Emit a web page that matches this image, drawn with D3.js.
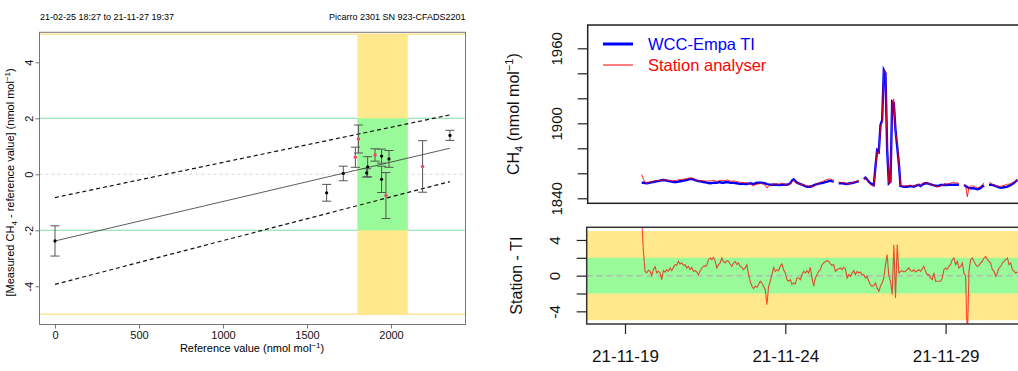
<!DOCTYPE html>
<html>
<head>
<meta charset="utf-8">
<script src="https://cdn.jsdelivr.net/npm/d3@7"></script>
<style>
  body { margin: 0; background: #fff; }
  svg { display: block; font-family: "Liberation Sans", Arial, sans-serif; }
</style>
</head>
<body>
<svg id="chart" width="1018" height="371"></svg>
<script>
// ---- left panel: deviation vs reference value ----
const headerLeft = "21-02-25 18:27 to 21-11-27 19:37";
const headerRight = "Picarro 2301 SN 923-CFADS2201";

const blackRef = [0, 1617, 1716, 1855, 1861, 1944, 1944, 1988, 2351];
const blackDev = [-2.38, -0.66, 0.03, 0.05, 0.27, 0.65, -0.18, 0.55, 1.39];
const blackUnc = [0.54, 0.3, 0.26, 0.15, 0.36, 0.25, 0.47, 0.3, 0.18];

const redRef = [1788, 1806, 1905, 1970, 2188];
const redDev = [0.61, 1.26, 0.69, -0.76, 0.28];
const redUnc = [0.36, 0.5, 0.22, 0.82, 0.92];

const fitRef = [0, 2350];
const fitMid = [-2.38, 0.93];
const fitUpper = [-0.83, 2.12];
const fitLower = [-3.93, -0.26];

const refBand = [1800, 2100];
const xTicksL = [0, 500, 1000, 1500, 2000];
const yTicksL = [-4, -2, 0, 2, 4];

// ---- right panels: time series ----
const seriesStart = new Date(Date.UTC(2021, 10, 19, 12, 30));
const stepMinutes = 75;

const tiValues = [
  1852.5, 1852.5, 1852.2, 1852, 1852.2, 1852.5, 1852.8, 1853, 1853.3, 1853.6,
  1853.8, 1854.1, 1854.4, 1854.6, 1854.4, 1854.1, 1853.8, 1853.6, 1853.3, 1853,
  1853, 1853, 1853.3, 1853.6, 1853.8, 1854.1, 1854.4, 1854.6, 1855.2, 1855.4,
  1855.4, 1855.2, 1854.6, 1854.1, 1853.8, 1853.6, 1853.3, 1853, 1852.8, 1852.5,
  1852.2, 1852, 1852.2, 1852.5, 1852.5, 1852.5, 1852.8, 1852.8, 1852.5, 1852.5,
  1852.8, 1853, 1852.8, 1852.5, 1852.5, 1852.5, 1852.2, 1852, 1851.7, 1851.4,
  1851.7, 1851.7, 1851.4, 1851.4, 1851.7, 1852, 1851.7, 1851.4, 1852, 1852.5,
  1852.5, 1852.5, 1852.5, 1852.2, 1852, 1851.4, 1851.1, 1850.9, 1850.9, 1850.9,
  1850.9, 1850.9, 1850.6, 1850.6, 1850.9, 1850.9, 1850.9, 1850.9, 1851.4, 1852,
  1854.1, 1855.2, 1853.8, 1852.5, 1852, 1851.4, 1850.9, 1850.4, 1849.8, 1849.3,
  1849.3, 1849.3, 1849.8, 1850.4, 1850.9, 1851.4, 1851.7, 1852, 1852.2, 1852.5,
  1853, 1853.3, 1853.8, 1854.1, 1853.6, 1853.3, null, null, 1852, 1852,
  1852, 1851.8, 1851.6, 1851.5, 1851.8, 1852, 1852.2, 1852.5, 1853, 1853.4,
  1853.8, null, null, 1855.5, 1856.5, 1855, 1853.3, 1852, 1851.2, 1850.6,
  1865.3, 1878.6, 1877.3, 1898.6, 1902.6, 1942.6, 1940, 1878.6, 1852, 1853.3,
  1917.3, 1916, 1894.6, 1881.3, 1868, 1849.8, 1849.5, 1849.3, 1849.3, 1849.3,
  1849.5, 1849.8, 1849.5, 1849.3, 1850, 1850.4, 1850.8, 1849.8, 1851, 1851.5,
  1852, 1852, 1851.5, 1851.2, 1850.8, 1850.4, 1850, 1849.8, 1850, 1850.6,
  1850.6, 1850.6, 1850.8, 1850.6, 1850.8, 1850.9, 1850.9, 1850.9, 1850.9, 1850.9,
  1850.9, null, null, 1850.6, 1849.8, 1848.8, 1848.3, 1848, 1848, 1848,
  1847.6, 1847.2, 1847.6, 1848.3, 1849.3, 1850.4, null, null, 1850.6, 1850.9,
  1850.6, 1850.4, 1849.8, 1849.3, 1848.8, 1848.5, 1848.6, 1848.8, 1849, 1849.3,
  1850, 1850.6, 1851.5, 1852.5, 1853.5, 1854.6
];

// station minus travelling instrument
const diffValues = [
  6.5, 2.8, 0.5, 0.3, 0.6, 0.5, 0.0, 0.7, 1.0, 0.3,
  0.5, 0.3, -0.45, 0.56, 0.4, 0.67, 0.48, 0.86, 0.56, 0.93,
  1.23, 1.16, 1.6, 1.31, 1.42, 1.16, 1.23, 0.86, 1.04, 0.67,
  0.93, 0.48, 0.56, 0.41, 0.11, 0.48, 0.86, 1.04, 1.04, 1.16,
  1.79, 1.98, 1.79, 2.05, 1.6, 0.86, 1.23, 1.42, 1.98, 1.6,
  1.42, 1.68, 1.6, 1.31, 1.04, 1.42, 1.6, 1.23, 1.42, 1.04,
  0.93, 0.67, 0.86, 1.23, 0.11, -0.63, -1.19, -1.45, -1.19, -1.3,
  -1.0, -0.63, -0.82, -1.19, -1.57, -3.25, -1.19, -0.63, 0.11, 0.93,
  0.48, 0.67, 0.56, 1.04, 1.31, 0.67, 0.3, -0.45, -0.63, -0.45,
  -1.0, -0.82, -0.93, -0.26, -0.26, -0.45, 0.11, 0.48, 0.3, 0.56,
  0.3, 0.93, -0.26, -1.19, -0.26, 0.11, 0.48, 0.67, 1.23, 1.42,
  1.6, 1.68, 1.6, 1.31, 1.16, 1.23, 0.48, 0.67, 0.78, 0.86,
  0.67, 0.93, 0.78, -0.26, 0.11, -0.07, 0.3, 0.56, 0.11, 0.48,
  0.3, 0.41, 0.11, 0.11, -0.26, -0.07, -0.63, -1.0, -1.19, -1.1,
  -0.82, -1.38, -1.75, -1.19, -0.82, -0.26, 1.23, 2.35, 0.0, -0.63,
  -2.1, 3.47, -2.5, 3.5, 0.3, 0.48, 0.56, 0.41, 0.48, 0.67,
  0.86, 0.56, 0.48, 0.67, 0.41, 0.56, 0.67, 0.48, 0.78, 1.04,
  0.48, 0.11, 0.11, -0.26, -0.45, 0.3, -0.63, -0.63, -0.63, -0.63,
  -0.26, 0.67, 0.86, 0.67, 1.04, 1.23, 1.79, 2.0, 1.23, 1.6,
  0.86, 1.04, 1.42, 0.3, -0.07, -7.5, 0.48, 1.79, 1.98, 1.6,
  1.23, 1.04, 1.16, 1.42, 1.6, 1.98, 2.16, 1.79, 1.6, 1.42,
  0.67, 0.48, -0.07, 0.3, 0.86, 1.04, 1.42, 1.6, 1.79, 1.98,
  1.23, 1.42, 0.67, 0.48, 0.3, 0.41
];

const yTicksTop = [1840, 1860, 1880, 1900, 1920, 1940, 1960];
const yLabelsTop = [1840, 1900, 1960];
const yTicksBottom = [-4, -2, 0, 2, 4];
const yLabelsBottom = [-4, 0, 4];
const dateTicks = ["2021-11-19", "2021-11-24", "2021-11-29"];

const legendNames = ["WCC-Empa TI", "Station analyser"];

const svg = d3.select("#chart");

drawLeft();
drawRightTop();
drawRightBottom();

function rotateYLabels(g, offset, size) {
  g.selectAll(".tick text")
    .attr("transform", "rotate(-90)")
    .attr("x", 0)
    .attr("y", -offset)
    .attr("dy", 0)
    .attr("text-anchor", "middle")
    .style("font-size", size + "px")
    .attr("fill", "#111");
}

function drawLeft() {
  const box = { x0: 39.5, x1: 465.5, y0: 32.3, y1: 324.5 };
  const x = d3.scaleLinear().domain([0, 2000]).range([55, 391]);
  const y = d3.scaleLinear().domain([0, 4]).range([174.3, 62.3]);
  const g = svg.append("g");

  g.append("text").attr("x", 40).attr("y", 20)
    .style("font-size", "9px").text(headerLeft);
  g.append("text").attr("x", 465.5).attr("y", 20).attr("text-anchor", "end")
    .style("font-size", "9px").text(headerRight);

  g.append("clipPath").attr("id", "clipL").append("rect")
    .attr("x", box.x0).attr("y", box.y0)
    .attr("width", box.x1 - box.x0).attr("height", box.y1 - box.y0);
  const p = g.append("g").attr("clip-path", "url(#clipL)");

  // reference lines
  p.append("line").attr("x1", box.x0).attr("x2", box.x1)
    .attr("y1", y(0)).attr("y2", y(0))
    .attr("stroke", "#d8d8d8").attr("stroke-dasharray", "3,3");
  [-5, 5].forEach(v => {
    p.append("line").attr("x1", box.x0).attr("x2", box.x1)
      .attr("y1", y(v)).attr("y2", y(v))
      .attr("stroke", "#ffe29a").attr("stroke-width", 1.5);
  });
  [-2, 2].forEach(v => {
    p.append("line").attr("x1", box.x0).attr("x2", box.x1)
      .attr("y1", y(v)).attr("y2", y(v))
      .attr("stroke", "#9fe3b8").attr("stroke-width", 1.2);
  });

  // compatibility bands
  p.append("rect").attr("x", x(refBand[0])).attr("y", y(5))
    .attr("width", x(refBand[1]) - x(refBand[0])).attr("height", y(-5) - y(5))
    .attr("fill", "#ffe98c");
  p.append("rect").attr("x", x(refBand[0])).attr("y", y(2))
    .attr("width", x(refBand[1]) - x(refBand[0])).attr("height", y(-2) - y(2))
    .attr("fill", "#98fa98");

  // regression + limits
  const fit = (vals) => d3.line()(fitRef.map((r, i) => [x(r), y(vals[i])]));
  p.append("path").attr("d", fit(fitMid)).attr("stroke", "#333").attr("stroke-width", 0.8).attr("fill", "none");
  p.append("path").attr("d", fit(fitUpper)).attr("stroke", "#111").attr("stroke-width", 1.2)
    .attr("stroke-dasharray", "4,3").attr("fill", "none");
  p.append("path").attr("d", fit(fitLower)).attr("stroke", "#111").attr("stroke-width", 1.2)
    .attr("stroke-dasharray", "4,3").attr("fill", "none");

  // error bars
  const bars = blackRef.map((r, i) => ({ r, d: blackDev[i], u: blackUnc[i], red: false }))
    .concat(redRef.map((r, i) => ({ r, d: redDev[i], u: redUnc[i], red: true })));
  bars.forEach(b => {
    const cx = x(b.r);
    const eb = p.append("g").attr("stroke", "#555").attr("stroke-width", 1);
    eb.append("line").attr("x1", cx).attr("x2", cx).attr("y1", y(b.d + b.u)).attr("y2", y(b.d - b.u));
    eb.append("line").attr("x1", cx - 4.5).attr("x2", cx + 4.5).attr("y1", y(b.d + b.u)).attr("y2", y(b.d + b.u));
    eb.append("line").attr("x1", cx - 4.5).attr("x2", cx + 4.5).attr("y1", y(b.d - b.u)).attr("y2", y(b.d - b.u));
  });
  p.selectAll(".pt").data(bars).enter().append("circle")
    .attr("cx", b => x(b.r)).attr("cy", b => y(b.d))
    .attr("r", b => b.red ? 1.8 : 1.6)
    .attr("fill", b => b.red ? "#e8506a" : "#000");

  // frame and axes
  g.append("rect").attr("x", box.x0).attr("y", box.y0)
    .attr("width", box.x1 - box.x0).attr("height", box.y1 - box.y0)
    .attr("fill", "none").attr("stroke", "#777");

  const ax = g.append("g").attr("transform", `translate(0,${box.y1})`)
    .call(d3.axisBottom(x).tickValues(xTicksL).tickSize(4).tickSizeOuter(0).tickFormat(d => String(d)));
  ax.select(".domain").remove();
  ax.selectAll(".tick line").attr("stroke", "#777");
  ax.selectAll(".tick text").attr("y", 14.5).attr("dy", 0).style("font-size", "11px").attr("fill", "#111");

  const ay = g.append("g").attr("transform", `translate(${box.x0},0)`)
    .call(d3.axisLeft(y).tickValues(yTicksL).tickSize(4).tickSizeOuter(0).tickFormat(d => String(d)));
  ay.select(".domain").remove();
  ay.selectAll(".tick line").attr("stroke", "#777");
  rotateYLabels(ay, 6.5, 11);

  const xl = g.append("text").attr("x", 252).attr("y", 352)
    .attr("text-anchor", "middle").style("font-size", "11px");
  xl.append("tspan").text("Reference value (nmol mol");
  xl.append("tspan").attr("dy", -4).style("font-size", "8px").text("\u22121");
  xl.append("tspan").attr("dy", 4).text(")");

  const yl = g.append("text").attr("transform", `translate(14,${(box.y0 + box.y1) / 2 + 4}) rotate(-90)`)
    .attr("text-anchor", "middle").style("font-size", "11px");
  yl.append("tspan").text("[Measured CH");
  yl.append("tspan").attr("dy", 3).style("font-size", "8px").text("4");
  yl.append("tspan").attr("dy", -3).text(" - reference value] (nmol  mol");
  yl.append("tspan").attr("dy", -4).style("font-size", "8px").text("\u22121");
  yl.append("tspan").attr("dy", 4).text(")");
}

function timeScale() {
  const t0 = d3.utcParse("%Y-%m-%d")(dateTicks[0]);
  const t1 = d3.utcParse("%Y-%m-%d")(dateTicks[1]);
  return d3.scaleUtc().domain([t0, t1]).range([625, 785.3]);
}

function seriesTimes(n) {
  return d3.range(n).map(i => d3.utcMinute.offset(seriesStart, i * stepMinutes));
}

function drawRightTop() {
  const box = { x0: 587.7, x1: 1060, y0: 25, y1: 203.3 };
  const x = timeScale();
  const y = d3.scaleLinear().domain([1840, 1960]).range([198.3, 48.3]);
  const times = seriesTimes(tiValues.length);
  const ti = tiValues.map((v, i) => ({ t: times[i], v }));
  const station = tiValues.map((v, i) => ({ t: times[i], v: v == null ? null : v + diffValues[i] }));
  const g = svg.append("g");

  g.append("clipPath").attr("id", "clipT").append("rect")
    .attr("x", box.x0).attr("y", box.y0)
    .attr("width", box.x1 - box.x0).attr("height", box.y1 - box.y0);
  const p = g.append("g").attr("clip-path", "url(#clipT)");

  const line = d3.line().defined(d => d.v != null).x(d => x(d.t)).y(d => y(d.v));
  p.append("path").datum(ti).attr("d", line)
    .attr("fill", "none").attr("stroke", "#0000ff").attr("stroke-width", 2.4);
  p.append("path").datum(station).attr("d", line)
    .attr("fill", "none").attr("stroke", "#ff0000").attr("stroke-opacity", 0.85).attr("stroke-width", 1);

  g.append("rect").attr("x", box.x0).attr("y", box.y0)
    .attr("width", box.x1 - box.x0).attr("height", box.y1 - box.y0)
    .attr("fill", "none").attr("stroke", "#222").attr("stroke-width", 1.5);

  const ay = g.append("g").attr("transform", `translate(${box.x0},0)`)
    .call(d3.axisLeft(y).tickValues(yTicksTop).tickSize(10).tickSizeOuter(0)
      .tickFormat(d => yLabelsTop.includes(d) ? String(d) : ""));
  ay.select(".domain").remove();
  ay.selectAll(".tick line").attr("stroke", "#222").attr("stroke-width", 1.2);
  rotateYLabels(ay, 25.7, 15);

  const yl = g.append("text").attr("transform", `translate(518.5,${(box.y0 + box.y1) / 2}) rotate(-90)`)
    .attr("text-anchor", "middle").style("font-size", "16px").attr("fill", "#111");
  yl.append("tspan").text("CH");
  yl.append("tspan").attr("dy", 4).style("font-size", "11px").text("4");
  yl.append("tspan").attr("dy", -4).text(" (nmol mol");
  yl.append("tspan").attr("dy", -6).style("font-size", "11px").text("\u22121");
  yl.append("tspan").attr("dy", 6).text(")");

  // legend
  const lg = g.append("g");
  const colors = ["#0000ff", "#ff0000"];
  const widths = [3, 1];
  legendNames.forEach((name, i) => {
    const ly = 44 + i * 21;
    lg.append("line").attr("x1", 603).attr("x2", 633).attr("y1", ly).attr("y2", ly)
      .attr("stroke", colors[i]).attr("stroke-width", widths[i]);
    lg.append("text").attr("x", 648).attr("y", ly + 6)
      .style("font-size", "16.5px").attr("fill", colors[i]).text(name);
  });
}

function drawRightBottom() {
  const box = { x0: 586.7, x1: 1060, y0: 227.3, y1: 324 };
  const x = timeScale();
  const y = d3.scaleLinear().domain([-5.42, 5.42]).range([box.y1, box.y0]);
  const times = seriesTimes(diffValues.length);
  const diff = diffValues.map((v, i) => ({ t: times[i], v }));
  const g = svg.append("g");

  g.append("clipPath").attr("id", "clipB").append("rect")
    .attr("x", box.x0).attr("y", box.y0)
    .attr("width", box.x1 - box.x0).attr("height", box.y1 - box.y0);
  const p = g.append("g").attr("clip-path", "url(#clipB)");

  p.append("rect").attr("x", box.x0).attr("y", y(5))
    .attr("width", box.x1 - box.x0).attr("height", y(-5) - y(5)).attr("fill", "#ffe98c");
  p.append("rect").attr("x", box.x0).attr("y", y(2))
    .attr("width", box.x1 - box.x0).attr("height", y(-2) - y(2)).attr("fill", "#98fa98");
  p.append("line").attr("x1", box.x0).attr("x2", box.x1).attr("y1", y(0)).attr("y2", y(0))
    .attr("stroke", "#b8b8b8").attr("stroke-width", 1.5).attr("stroke-dasharray", "6,4");

  const line = d3.line().x(d => x(d.t)).y(d => y(d.v));
  p.append("path").datum(diff).attr("d", line)
    .attr("fill", "none").attr("stroke", "#ff0000").attr("stroke-opacity", 0.7).attr("stroke-width", 1.1);

  g.append("rect").attr("x", box.x0).attr("y", box.y0)
    .attr("width", box.x1 - box.x0).attr("height", box.y1 - box.y0)
    .attr("fill", "none").attr("stroke", "#333").attr("stroke-width", 1.5);

  const ay = g.append("g").attr("transform", `translate(${box.x0},0)`)
    .call(d3.axisLeft(y).tickValues(yTicksBottom).tickSize(10).tickSizeOuter(0)
      .tickFormat(d => yLabelsBottom.includes(d) ? String(d) : ""));
  ay.select(".domain").remove();
  ay.selectAll(".tick line").attr("stroke", "#222").attr("stroke-width", 1.2);
  rotateYLabels(ay, 26.7, 15);

  const ax = g.append("g").attr("transform", `translate(0,${box.y1})`)
    .call(d3.axisBottom(x).tickValues(dateTicks.map(d3.utcParse("%Y-%m-%d")))
      .tickSize(10).tickSizeOuter(0).tickFormat(d3.utcFormat("%y-%m-%d")));
  ax.select(".domain").remove();
  ax.selectAll(".tick line").attr("stroke", "#222").attr("stroke-width", 1.2);
  ax.selectAll(".tick text").attr("y", 37.5).attr("dy", 0)
    .style("font-size", "17px").attr("fill", "#111");

  g.append("text").attr("transform", `translate(521.7,${(box.y0 + box.y1) / 2}) rotate(-90)`)
    .attr("text-anchor", "middle").style("font-size", "16px").attr("fill", "#111")
    .text("Station - TI");
}
</script>
</body>
</html>
